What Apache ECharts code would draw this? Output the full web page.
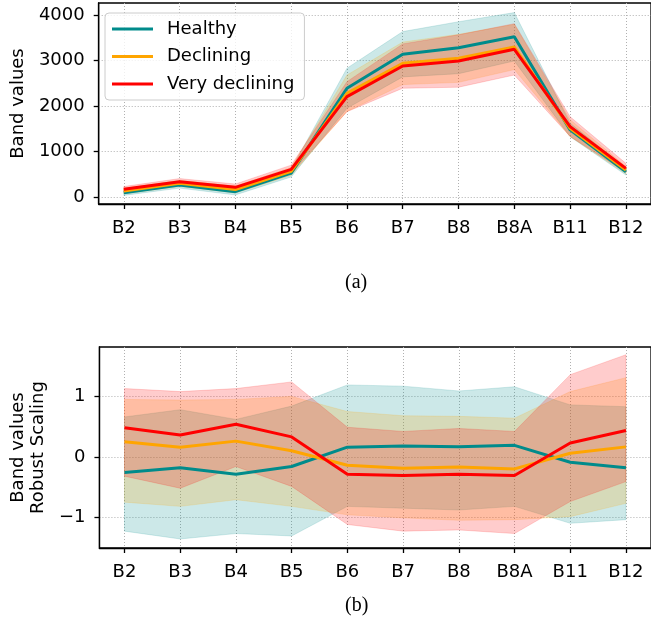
<!DOCTYPE html>
<html>
<head>
<meta charset="utf-8">
<script src="https://cdn.jsdelivr.net/npm/echarts@6/dist/echarts.min.js"></script>
<style>
html,body{margin:0;padding:0;background:#fff;}
#chart{width:651px;height:626px;}
</style>
</head>
<body>
<div id="chart"></div>
<script>
// ---- data ----
const bandNames = ['B2','B3','B4','B5','B6','B7','B8','B8A','B11','B12'];
const groupNames = ['Healthy','Declining','Very declining'];

// (a) raw band values: mean line with lower / upper band limits
const healthyMean   = [95, 264, 117, 525, 2390, 3136, 3282, 3523, 1475, 556];
const healthyLow    = [35, 195, 45, 440, 1950, 2640, 2710, 2990, 1325, 483];
const healthyHigh   = [155, 335, 190, 610, 2830, 3636, 3852, 4053, 1625, 630];
const decliningMean = [130, 300, 165, 562, 2280, 2938, 3048, 3297, 1510, 590];
const decliningLow  = [65, 230, 90, 475, 1880, 2470, 2520, 2800, 1330, 510];
const decliningHigh = [195, 370, 240, 650, 2680, 3405, 3575, 3795, 1700, 670];
const veryMean      = [168, 336, 213, 608, 2205, 2879, 2989, 3246, 1546, 630];
const veryLow       = [105, 265, 140, 515, 1875, 2390, 2413, 2681, 1330, 545];
const veryHigh      = [230, 405, 285, 700, 2535, 3365, 3565, 3810, 1765, 740];

// (b) robust scaled values
const healthyRobust       = [-0.26, -0.18, -0.29, -0.16, 0.16, 0.18, 0.165, 0.19, -0.09, -0.18];
const healthyRobustLow    = [-1.23, -1.36, -1.27, -1.31, -0.82, -0.85, -0.88, -0.82, -1.10, -1.04];
const healthyRobustHigh   = [0.66, 0.78, 0.62, 0.84, 1.19, 1.17, 1.09, 1.16, 0.86, 0.83];
const decliningRobust     = [0.25, 0.16, 0.26, 0.10, -0.14, -0.19, -0.17, -0.20, 0.06, 0.165];
const decliningRobustLow  = [-0.75, -0.82, -0.71, -0.82, -0.96, -1.01, -1.05, -1.04, -0.99, -0.77];
const decliningRobustHigh = [0.95, 0.94, 0.95, 1.00, 0.75, 0.68, 0.67, 0.64, 1.08, 1.31];
const veryRobust          = [0.48, 0.36, 0.54, 0.33, -0.29, -0.31, -0.29, -0.31, 0.23, 0.435];
const veryRobustLow       = [-0.32, -0.52, -0.16, -0.49, -1.12, -1.23, -1.21, -1.27, -0.74, -0.41];
const veryRobustHigh      = [1.13, 1.08, 1.13, 1.24, 0.49, 0.42, 0.47, 0.42, 1.36, 1.69];

const yTicksTop = [0, 1000, 2000, 3000, 4000];
const yTicksBottom = [-1, 0, 1];

// ---- style ----
const lineColors = ['#008b8b', '#ffa500', '#ff0000'];
const fillColors = ['rgba(0,139,139,0.2)', 'rgba(255,165,0,0.2)', 'rgba(255,0,0,0.2)'];
const FONT = 'DejaVu Sans';

const panels = [
  {means: [healthyMean, decliningMean, veryMean],
   lows: [healthyLow, decliningLow, veryLow],
   highs: [healthyHigh, decliningHigh, veryHigh]},
  {means: [healthyRobust, decliningRobust, veryRobust],
   lows: [healthyRobustLow, decliningRobustLow, veryRobustLow],
   highs: [healthyRobustHigh, decliningRobustHigh, veryRobustHigh]}
];

const xIdx = bandNames.map((_, i) => i);
const series = [];

function bandSeries(pi, gi, lows, highs) {
  const data = lows.map((v, i) => [i, v, highs[i]]);
  return {
    type: 'custom', xAxisIndex: pi, yAxisIndex: pi, silent: true, z: 1,
    encode: {x: 0, y: [1, 2]},
    data: data,
    renderItem: function (params, api) {
      if (params.dataIndexInside !== 0) return null;
      const top = data.map(d => api.coord([d[0], d[2]]));
      const bot = data.map(d => api.coord([d[0], d[1]])).reverse();
      return {
        type: 'polygon',
        shape: {points: top.concat(bot)},
        style: {fill: fillColors[gi], stroke: fillColors[gi], lineWidth: 0.8}
      };
    }
  };
}

panels.forEach((p, pi) => {
  groupNames.forEach((g, gi) => {
    series.push(bandSeries(pi, gi, p.lows[gi], p.highs[gi]));
  });
  groupNames.forEach((g, gi) => {
    series.push({
      name: g, type: 'line', xAxisIndex: pi, yAxisIndex: pi,
      data: p.means[gi].map((v, i) => [i, v]), symbol: 'none', showSymbol: false,
      lineStyle: {color: lineColors[gi], width: 3}, itemStyle: {color: lineColors[gi]}, z: 5
    });
  });
});

const gridLine = {show: true, lineStyle: {color: '#b0b0b0', width: 1, type: [1, 2]}};
function xAxisCfg(gi) {
  return {
    type: 'value', gridIndex: gi, min: -0.45, max: 9.45,
    axisLine: {show: true, onZero: false, lineStyle: {color: '#000', width: 1.3}},
    axisTick: {show: true, length: 5, lineStyle: {color: '#000', width: 1.3}, customValues: xIdx},
    axisLabel: {customValues: xIdx, formatter: v => bandNames[Math.round(v)], fontFamily: FONT, fontSize: 18, color: '#000', margin: 15},
    splitLine: gridLine
  };
}
function yAxisCfg(gi, min, max, ticks, name, gap) {
  return {
    type: 'value', gridIndex: gi, min: min, max: max,
    name: name, nameLocation: 'middle', nameGap: gap, nameRotate: 90,
    nameTextStyle: {fontFamily: FONT, fontSize: 18, color: '#000', lineHeight: 20},
    axisLine: {show: true, onZero: false, lineStyle: {color: '#000', width: 1.3}},
    axisTick: {show: true, length: 5, lineStyle: {color: '#000', width: 1.3}, customValues: ticks},
    axisLabel: {customValues: ticks, formatter: v => String(v).replace('-', '\u2212'), fontFamily: FONT, fontSize: 18, color: '#000', margin: 14},
    splitLine: gridLine
  };
}

const chart = echarts.init(document.getElementById('chart'), null, {renderer: 'canvas'});
chart.setOption({
  animation: false,
  backgroundColor: '#fff',
  title: [
    {text: '(a)', left: 345, top: 273, textStyle: {fontFamily: 'Liberation Serif', fontSize: 20, fontWeight: 'normal', color: '#000'}, padding: 0},
    {text: '(b)', left: 345, top: 596, textStyle: {fontFamily: 'Liberation Serif', fontSize: 20, fontWeight: 'normal', color: '#000'}, padding: 0}
  ],
  grid: [
    {left: 96, top: 3, width: 560, height: 201, show: true, borderColor: '#000', borderWidth: 1.3, containLabel: false},
    {left: 96, top: 347, width: 560, height: 201, show: true, borderColor: '#000', borderWidth: 1.3, containLabel: false}
  ],
  xAxis: [xAxisCfg(0), xAxisCfg(1)],
  yAxis: [
    yAxisCfg(0, -154, 4264, yTicksTop, 'Band values', 70),
    yAxisCfg(1, -1.509, 1.818, yTicksBottom, 'Band values\nRobust Scaling', 51)
  ],
  legend: {
    data: groupNames.map((g, gi) => ({name: g, icon: 'rect', itemStyle: {color: lineColors[gi]}})),
    orient: 'vertical', left: 105, top: 13,
    padding: [7, 10, 7, 7], itemWidth: 41, itemHeight: 3, itemGap: 9.5,
    backgroundColor: 'rgba(255,255,255,0.8)', borderColor: '#cccccc', borderWidth: 1, borderRadius: 4,
    textStyle: {fontFamily: FONT, fontSize: 18, lineHeight: 18, color: '#000', padding: [0, 0, 0, 9]},
    selectedMode: false
  },
  series: series
});
</script>
</body>
</html>
